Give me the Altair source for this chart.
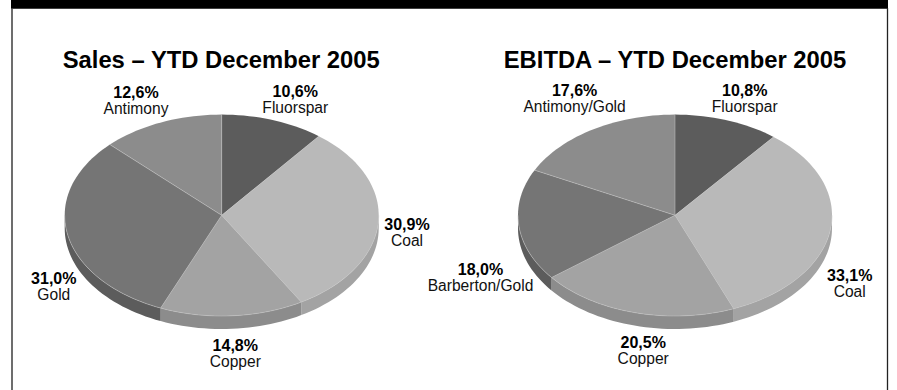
import math
import altair as alt
import pandas as pd

# Share of each division, clockwise from twelve o'clock
sales_names = ["Fluorspar", "Coal", "Copper", "Gold", "Antimony"]
sales_shares = [10.6, 30.9, 14.8, 31.0, 12.6]
ebitda_names = ["Fluorspar", "Coal", "Copper", "Barberton/Gold", "Antimony/Gold"]
ebitda_shares = [10.8, 33.1, 20.5, 18.0, 17.6]
titles = ["Sales – YTD December 2005", "EBITDA – YTD December 2005"]

W, H = 897, 390
FONT = "Liberation Sans"

# Grey ramp shared by both pies: wedge position -> face colour, rim colour
FACE = ["#5c5c5c", "#b9b9b9", "#a3a3a3", "#757575", "#8c8c8c"]
RIM = ["#4a4a4a", "#a3a3a3", "#8c8c8c", "#5c5c5c", "#757575"]

# Ellipse geometry of the tilted pies
pies = [
    {"cx": 221.7, "title_x": 221.2, "names": sales_names, "shares": sales_shares},
    {"cx": 675.0, "title_x": 675.0, "names": ebitda_names, "shares": ebitda_shares},
]
CY, RX, RY, DEPTH = 215.3, 157.0, 100.7, 13.0

# Label anchors per pie, in the order of the wedges: centre x, baseline of the percentage
label_anchor = [
    [(295.3, 97.3), (407.0, 230.0), (235.3, 350.7), (53.8, 284.3), (136.0, 98.0)],
    [(744.7, 96.0), (849.7, 281.0), (643.2, 348.3), (480.5, 274.7), (574.6, 96.0)],
]


def ellipse_point(cx, cy, deg):
    rad = math.radians(deg)
    return cx + RX * math.sin(rad), cy - RY * math.cos(rad)


faces, rims, seams, labels = [], [], [], []
for p, pie in enumerate(pies):
    total = sum(pie["shares"])
    start = 0.0
    for i, (name, share) in enumerate(zip(pie["names"], pie["shares"])):
        end = start + 360.0 * share / total
        key = f"{p}-{i}"

        # Wedge outline: centre, then along the rim
        outline = [(pie["cx"], CY)]
        steps = max(2, int((end - start) / 2))
        outline += [ellipse_point(pie["cx"], CY, start + (end - start) * s / steps) for s in range(steps + 1)]
        outline.append((pie["cx"], CY))
        for n, (x, y) in enumerate(outline):
            faces.append({"x": x, "y": y, "n": n, "key": key, "wedge": i})

        # Hairline between this wedge and the previous one
        for n, (x, y) in enumerate([(pie["cx"], CY), ellipse_point(pie["cx"], CY, start)]):
            seams.append({"x": x, "y": y, "n": n, "key": f"r{key}"})

        # Visible rim: only the front half of the ellipse has a side wall
        lo, hi = max(start, 90.0), min(end, 270.0)
        if lo < hi:
            steps = max(2, int((hi - lo) / 2))
            arc = [ellipse_point(pie["cx"], CY, lo + (hi - lo) * s / steps) for s in range(steps + 1)]
            ring = arc + [(x, y + DEPTH) for x, y in reversed(arc)] + [arc[0]]
            for n, (x, y) in enumerate(ring):
                rims.append({"x": x, "y": y, "n": n, "key": key, "wedge": i})
            for n, (x, y) in enumerate(arc):
                seams.append({"x": x, "y": y, "n": n, "key": f"e{key}"})

        ax, ay = label_anchor[p][i]
        pct = f"{share:.1f}%".replace(".", ",")
        labels.append({"x": ax, "y": ay, "text": pct, "kind": "value"})
        labels.append({"x": ax, "y": ay + 16, "text": name, "kind": "name"})
        start = end

x_scale = alt.Scale(domain=[0, W], range=[0, W], nice=False, zero=False)
y_scale = alt.Scale(domain=[0, H], range=[0, H], nice=False, zero=False)
X = alt.X("x:Q", scale=x_scale, axis=None)
Y = alt.Y("y:Q", scale=y_scale, axis=None)
wedge_ids = list(range(5))


def polygons(rows, colours):
    return (
        alt.Chart(pd.DataFrame(rows))
        .mark_line(filled=True, stroke="#00000000", strokeWidth=0, interpolate="linear")
        .encode(
            x=X,
            y=Y,
            order="n:Q",
            detail="key:N",
            fill=alt.Fill("wedge:O", scale=alt.Scale(domain=wedge_ids, range=colours), legend=None),
        )
    )


seam_lines = (
    alt.Chart(pd.DataFrame(seams))
    .mark_line(color="#c4c4c4", strokeWidth=0.5, interpolate="linear")
    .encode(x=X, y=Y, order="n:Q", detail="key:N")
)

# Page furniture: black header band and the thin side borders
band = (
    alt.Chart(pd.DataFrame({"x": [11], "x2": [888], "y": [0], "y2": [8.7]}))
    .mark_rect(color="#000000")
    .encode(x=X, x2="x2:Q", y=Y, y2="y2:Q")
)
left_border = (
    alt.Chart(pd.DataFrame({"x": [12], "y": [8], "y2": [H]}))
    .mark_rule(color="#3c3c3c", strokeWidth=1.5)
    .encode(x=X, y=Y, y2="y2:Q")
)
right_border = (
    alt.Chart(pd.DataFrame({"x": [887.5], "y": [8], "y2": [H]}))
    .mark_rule(color="#222222", strokeWidth=1.3)
    .encode(x=X, y=Y, y2="y2:Q")
)

title_text = (
    alt.Chart(pd.DataFrame({
        "x": [p["title_x"] for p in pies],
        "y": [68.3, 68.3],
        "text": titles,
    }))
    .mark_text(font=FONT, fontSize=23.8, fontWeight="bold", align="center", baseline="alphabetic", color="#000000")
    .encode(x=X, y=Y, text="text:N")
)

label_df = pd.DataFrame(labels)
value_text = (
    alt.Chart(label_df[label_df.kind == "value"])
    .mark_text(font=FONT, fontSize=16, fontWeight="bold", align="center", baseline="alphabetic", color="#000000")
    .encode(x=X, y=Y, text="text:N")
)
name_text = (
    alt.Chart(label_df[label_df.kind == "name"])
    .mark_text(font=FONT, fontSize=15.6, align="center", baseline="alphabetic", color="#111111")
    .encode(x=X, y=Y, text="text:N")
)

chart = (
    alt.layer(
        band,
        left_border,
        right_border,
        polygons(rims, RIM),
        polygons(faces, FACE),
        seam_lines,
        title_text,
        value_text,
        name_text,
    )
    .resolve_scale(fill="independent")
    .properties(width=W, height=H, padding=0, autosize=alt.AutoSizeParams(type="none"), background="#ffffff")
    .configure_view(stroke=None)
)

chart.save("out.html", embed_options={"renderer": "svg", "actions": False})
